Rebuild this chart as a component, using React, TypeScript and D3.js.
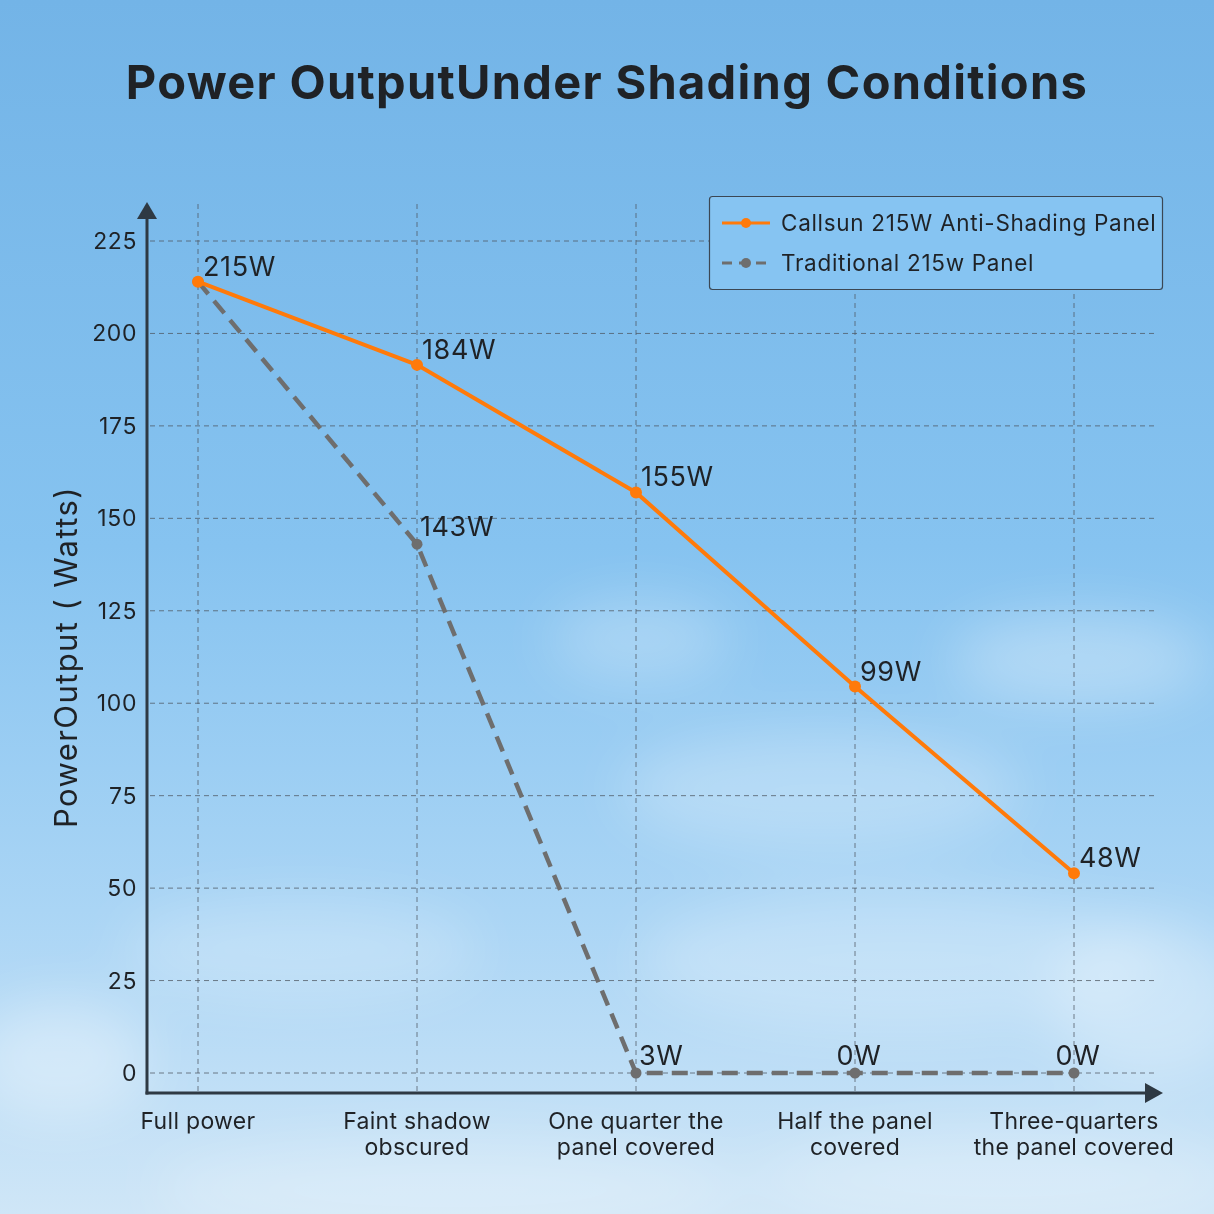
import { useEffect, useRef } from 'react';
import * as d3 from 'd3';

const W = 1214;
const H = 1214;

// ── Data ──
const CATEGORIES = [
  ['Full power'],
  ['Faint shadow', 'obscured'],
  ['One quarter the', 'panel covered'],
  ['Half the panel', 'covered'],
  ['Three-quarters', 'the panel covered'],
];
const CALLSUN_VALUES = [214, 191.5, 157, 104.5, 54];
const CALLSUN_LABELS = ['215W', '184W', '155W', '99W', '48W'];
const TRAD_VALUES = [214, 143, 0, 0, 0];
const TRAD_LABELS = ['', '143W', '3W', '0W', '0W'];
const Y_TICKS = [0, 25, 50, 75, 100, 125, 150, 175, 200, 225];
const SERIES_NAMES = ['Callsun 215W Anti-Shading Panel', 'Traditional 215w Panel'];

const ORANGE = '#ff7a0a';
const GREY = '#6e6e6e';
const AXIS = '#2e3943';
const INK = '#1f2226';
const FONT = "Inter, 'Open Sans', sans-serif";

const AXIS_X = 147;
const AXIS_Y = 1093;

// background clouds (decoration)
const CLOUDS = [
  { cx: 640, cy: 640, rx: 90, ry: 40, o: 0.25 },
  { cx: 1080, cy: 660, rx: 130, ry: 45, o: 0.3 },
  { cx: 820, cy: 790, rx: 200, ry: 60, o: 0.25 },
  { cx: 300, cy: 950, rx: 180, ry: 50, o: 0.22 },
  { cx: 900, cy: 960, rx: 260, ry: 70, o: 0.25 },
  { cx: 60, cy: 1060, rx: 90, ry: 60, o: 0.35 },
  { cx: 1150, cy: 1000, rx: 100, ry: 80, o: 0.3 },
  { cx: 450, cy: 1190, rx: 300, ry: 50, o: 0.25 },
  { cx: 1000, cy: 1180, rx: 250, ry: 50, o: 0.25 },
];

export default function App() {
  const svgRef = useRef<SVGSVGElement>(null);

  useEffect(() => {
    const svg = d3.select(svgRef.current);
    svg.selectAll('*').remove();

    const defs = svg.append('defs');
    const grad = defs.append('linearGradient').attr('id', 'sky').attr('x1', 0).attr('y1', 0).attr('x2', 0).attr('y2', 1);
    grad.append('stop').attr('offset', '0%').attr('stop-color', '#73b4e7');
    grad.append('stop').attr('offset', '45%').attr('stop-color', '#86c3f0');
    grad.append('stop').attr('offset', '75%').attr('stop-color', '#aad5f5');
    grad.append('stop').attr('offset', '100%').attr('stop-color', '#cfe6f7');
    defs.append('filter').attr('id', 'blur').attr('x', '-50%').attr('y', '-50%').attr('width', '200%').attr('height', '200%')
      .append('feGaussianBlur').attr('stdDeviation', 28);

    svg.append('rect').attr('width', W).attr('height', H).attr('fill', 'url(#sky)');
    svg.append('g').attr('filter', 'url(#blur)')
      .selectAll('ellipse').data(CLOUDS).join('ellipse')
      .attr('cx', (d) => d.cx).attr('cy', (d) => d.cy).attr('rx', (d) => d.rx).attr('ry', (d) => d.ry)
      .attr('fill', '#ffffff').attr('opacity', (d) => d.o);

    // Title
    svg.append('text')
      .attr('x', 607).attr('y', 99).attr('text-anchor', 'middle')
      .attr('font-family', FONT).attr('font-size', 47).attr('font-weight', 700).attr('fill', INK)
      .attr('letter-spacing', 1.3)
      .text('Power OutputUnder Shading Conditions');

    const idx = CATEGORIES.map((_, i) => i);
    const x = d3.scalePoint<number>().domain(idx).range([198, 1074]);
    const y = d3.scaleLinear().domain([0, 225]).range([1073, 241]);

    // Grid
    const grid = svg.append('g').attr('stroke', '#4d5660').attr('stroke-opacity', 0.75).attr('stroke-width', 1).attr('stroke-dasharray', '5 4');
    grid.selectAll('line.h').data(Y_TICKS).join('line').attr('class', 'h')
      .attr('x1', AXIS_X + 3).attr('x2', 1155).attr('y1', (d) => y(d)).attr('y2', (d) => y(d));
    grid.selectAll('line.v').data(idx).join('line').attr('class', 'v')
      .attr('x1', (d) => x(d)!).attr('x2', (d) => x(d)!).attr('y1', 204).attr('y2', AXIS_Y);

    // Y tick labels
    svg.append('g').selectAll('text').data(Y_TICKS).join('text')
      .attr('x', 137).attr('y', (d) => y(d)).attr('dy', '0.35em').attr('text-anchor', 'end')
      .attr('font-family', FONT).attr('font-size', 23).attr('letter-spacing', 0.6).attr('fill', INK)
      .text((d) => d);

    // Axes with arrows
    svg.append('line').attr('x1', AXIS_X).attr('x2', AXIS_X).attr('y1', AXIS_Y + 1.5).attr('y2', 214)
      .attr('stroke', AXIS).attr('stroke-width', 3);
    svg.append('path').attr('d', `M${AXIS_X - 10},${219} L${AXIS_X},${202} L${AXIS_X + 10},${219} Z`).attr('fill', AXIS);
    svg.append('line').attr('x1', AXIS_X - 1.5).attr('x2', 1150).attr('y1', AXIS_Y).attr('y2', AXIS_Y)
      .attr('stroke', AXIS).attr('stroke-width', 3);
    svg.append('path').attr('d', `M1145,${AXIS_Y - 10} L1163,${AXIS_Y} L1145,${AXIS_Y + 10} Z`).attr('fill', AXIS);

    // Y title
    svg.append('text')
      .attr('transform', `translate(77,657) rotate(-90)`).attr('text-anchor', 'middle')
      .attr('font-family', FONT).attr('font-size', 31).attr('letter-spacing', 1.4).attr('fill', INK)
      .text('PowerOutput ( Watts)');

    // X category labels
    const xl = svg.append('g').selectAll('text').data(CATEGORIES).join('text')
      .attr('x', (_, i) => x(i)!).attr('text-anchor', 'middle')
      .attr('font-family', FONT).attr('font-size', 23).attr('letter-spacing', 0.3).attr('fill', INK);
    xl.selectAll('tspan').data((d) => d).join('tspan')
      .attr('x', function () { return (this.parentNode as SVGTextElement).getAttribute('x'); })
      .attr('y', (_, j) => 1129 + j * 26)
      .text((d) => d);

    const line = d3.line<number>().x((_, i) => x(i)!).y((d) => y(d));

    // Traditional series (grey dashed)
    svg.append('path').datum(TRAD_VALUES).attr('d', line).attr('fill', 'none')
      .attr('stroke', GREY).attr('stroke-width', 4.5).attr('stroke-dasharray', '16 9');
    svg.append('g').selectAll('circle').data(TRAD_VALUES).join('circle')
      .attr('cx', (_, i) => x(i)!).attr('cy', (d) => y(d)).attr('r', 5.5).attr('fill', GREY);

    // Callsun series (orange)
    svg.append('path').datum(CALLSUN_VALUES).attr('d', line).attr('fill', 'none')
      .attr('stroke', ORANGE).attr('stroke-width', 4);
    svg.append('g').selectAll('circle').data(CALLSUN_VALUES).join('circle')
      .attr('cx', (_, i) => x(i)!).attr('cy', (d) => y(d)).attr('r', 6).attr('fill', ORANGE);

    // Value labels
    svg.append('g').selectAll('text').data(CALLSUN_VALUES).join('text')
      .attr('x', (_, i) => x(i)! + 5).attr('y', (d) => y(d) - 6)
      .attr('font-family', FONT).attr('font-size', 27).attr('letter-spacing', 0.6).attr('fill', INK)
      .text((_, i) => CALLSUN_LABELS[i]);
    svg.append('g').selectAll('text').data(TRAD_VALUES).join('text')
      .attr('x', (_, i) => x(i)! + (TRAD_LABELS[i] === '0W' ? 4 : 3))
      .attr('y', (d) => y(d) - 8)
      .attr('text-anchor', (_, i) => (TRAD_LABELS[i] === '0W' ? 'middle' : 'start'))
      .attr('font-family', FONT).attr('font-size', 27).attr('letter-spacing', 0.6).attr('fill', INK)
      .text((_, i) => TRAD_LABELS[i]);

    // Legend
    const lg = svg.append('g');
    lg.append('rect').attr('x', 709.5).attr('y', 196.5).attr('width', 453).attr('height', 93).attr('rx', 3)
      .attr('fill', '#86c4f2').attr('stroke', '#3b4754').attr('stroke-width', 1.2);
    const items = lg.selectAll('g').data(SERIES_NAMES).join('g')
      .attr('transform', (_, i) => `translate(722,${223 + i * 40})`);
    items.append('line').attr('x1', 0).attr('x2', 48).attr('y1', 0).attr('y2', 0)
      .attr('stroke', (_, i) => (i === 0 ? ORANGE : GREY)).attr('stroke-width', 3)
      .attr('stroke-dasharray', (_, i) => (i === 0 ? null : '10 7'));
    items.append('circle').attr('cx', 24).attr('cy', 0).attr('r', 5).attr('fill', (_, i) => (i === 0 ? ORANGE : GREY));
    items.append('text').attr('x', 59).attr('y', 0).attr('dy', '0.35em')
      .attr('font-family', FONT).attr('font-size', 22.5).attr('letter-spacing', 0.7).attr('fill', INK)
      .text((d) => d);
  }, []);

  return (
    <div style={{ position: 'absolute', top: 0, left: 0 }}>
      <svg ref={svgRef} width={W} height={H} style={{ display: 'block' }} />
    </div>
  );
}
